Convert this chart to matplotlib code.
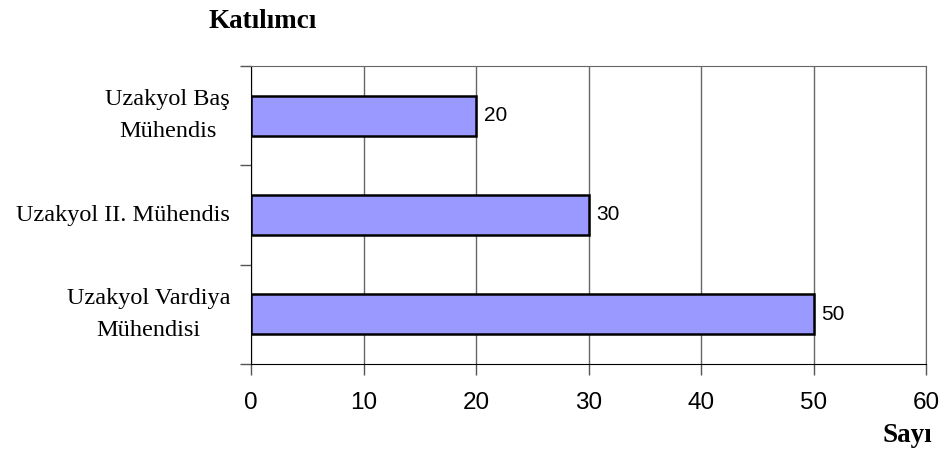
import matplotlib.pyplot as plt
from matplotlib.ticker import FixedLocator

# Data
categories = ["Uzakyol Vardiya\nMühendisi", "Uzakyol II. Mühendis", "Uzakyol Baş\nMühendis"]
values = [50, 30, 20]
x_ticks = [0, 10, 20, 30, 40, 50, 60]

serif = ["Liberation Serif", "DejaVu Serif"]
sans = ["Liberation Sans", "DejaVu Sans"]

fig = plt.figure(figsize=(9.44, 4.55), dpi=100)
ax = fig.add_axes([251 / 944, 1 - 364 / 455, (926 - 251) / 944, (364 - 66) / 455])

ypos = range(len(categories))
ax.barh(ypos, values, height=0.4, color="#9999FF", edgecolor="black", linewidth=1.8, zorder=3)

for y, v in zip(ypos, values):
    ax.text(v + 0.7, y, str(v), va="center", ha="left", fontsize=15, family=sans)

ax.set_xlim(0, 60)
ax.set_ylim(-0.5, len(categories) - 0.5)
ax.set_xticks(x_ticks)
ax.set_xticklabels([str(t) for t in x_ticks], fontsize=17.5, family=sans)

# category labels at centres, tick marks at boundaries
ax.set_yticks([-0.5, 0.5, 1.5, 2.5])
ax.set_yticklabels([])
ax.yaxis.set_minor_locator(FixedLocator(list(ypos)))
ax.set_yticklabels(categories, minor=True, fontsize=17.5, family=serif,
                   ha="right", va="center", multialignment="center", linespacing=1.65)
ax.tick_params(axis="y", which="minor", length=0, pad=15)
ax.tick_params(axis="y", which="major", length=8, direction="out", width=1, color="#555555")
ax.tick_params(axis="x", length=8, direction="out", width=1, color="#555555", pad=12)

ax.grid(axis="x", color="#666666", linewidth=1, zorder=0)
ax.spines["left"].set_color("black")
ax.spines["bottom"].set_color("black")
ax.spines["top"].set_color("#666666")
ax.spines["right"].set_color("#666666")

fig.text(263 / 944, 1 - 22 / 455, "Katılımcı", ha="center", va="center",
         fontsize=19.5, fontweight="bold", family=serif)
fig.text(907 / 944, 1 - 436 / 455, "Sayı", ha="center", va="center",
         fontsize=19.5, fontweight="bold", family=serif)

fig.savefig("out.png", dpi=100)
